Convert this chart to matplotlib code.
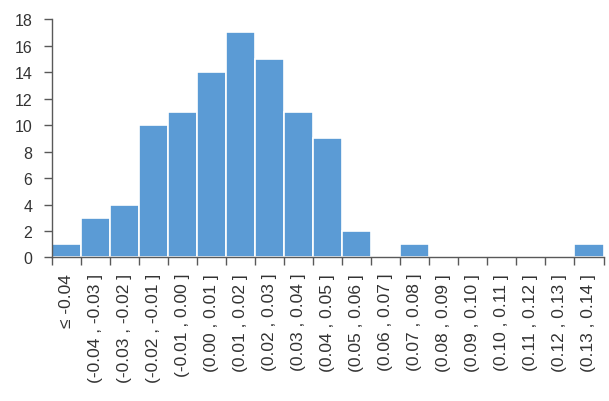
import matplotlib
matplotlib.use("Agg")
import matplotlib.pyplot as plt
import numpy as np

plt.rcParams['font.family'] = ['Liberation Sans', 'DejaVu Sans']

bin_labels = ['≤ -0.04', '(-0.04 , -0.03 ]', '(-0.03 , -0.02 ]', '(-0.02 , -0.01 ]',
              '(-0.01 , 0.00 ]', '(0.00 , 0.01 ]', '(0.01 , 0.02 ]', '(0.02 , 0.03 ]',
              '(0.03 , 0.04 ]', '(0.04 , 0.05 ]', '(0.05 , 0.06 ]', '(0.06 , 0.07 ]',
              '(0.07 , 0.08 ]', '(0.08 , 0.09 ]', '(0.09 , 0.10 ]', '(0.10 , 0.11 ]',
              '(0.11 , 0.12 ]', '(0.12 , 0.13 ]', '(0.13 , 0.14 ]']
counts = [1, 3, 4, 10, 11, 14, 17, 15, 11, 9, 2, 0, 1, 0, 0, 0, 0, 0, 1]

bar_color = '#5B9BD5'
text_color = '#333333'
axis_color = '#595959'

fig = plt.figure(figsize=(6.09, 4.02), dpi=100)
ax = fig.add_axes([0.085, 0.357, 0.906, 0.593])

x = np.arange(len(counts))
ax.bar(x, counts, width=1.0, color=bar_color, edgecolor='white', linewidth=1.2)

ax.set_xlim(-0.5, len(counts) - 0.5)
ax.set_ylim(0, 18)
ax.set_yticks(range(0, 19, 2))

# tick marks on bin boundaries, labels in the middle of each bin
ax.set_xticks(np.arange(len(counts) + 1) - 0.5)
ax.set_xticklabels([])
ax.set_xticks(x, minor=True)
ax.set_xticklabels(bin_labels, minor=True, rotation=90, va='top', ha='center')
ax.tick_params(axis='x', which='minor', length=0, pad=11, labelsize=12.5, labelcolor=text_color)
ax.tick_params(axis='x', which='major', length=6, width=1, color=axis_color, direction='out')
ax.tick_params(axis='y', length=6, width=1, color=axis_color, labelsize=11.5,
               labelcolor=text_color, pad=8)

for side in ['top', 'right']:
    ax.spines[side].set_visible(False)
for side in ['left', 'bottom']:
    ax.spines[side].set_color(axis_color)
    ax.spines[side].set_linewidth(1)

fig.savefig('out.png', dpi=100)
